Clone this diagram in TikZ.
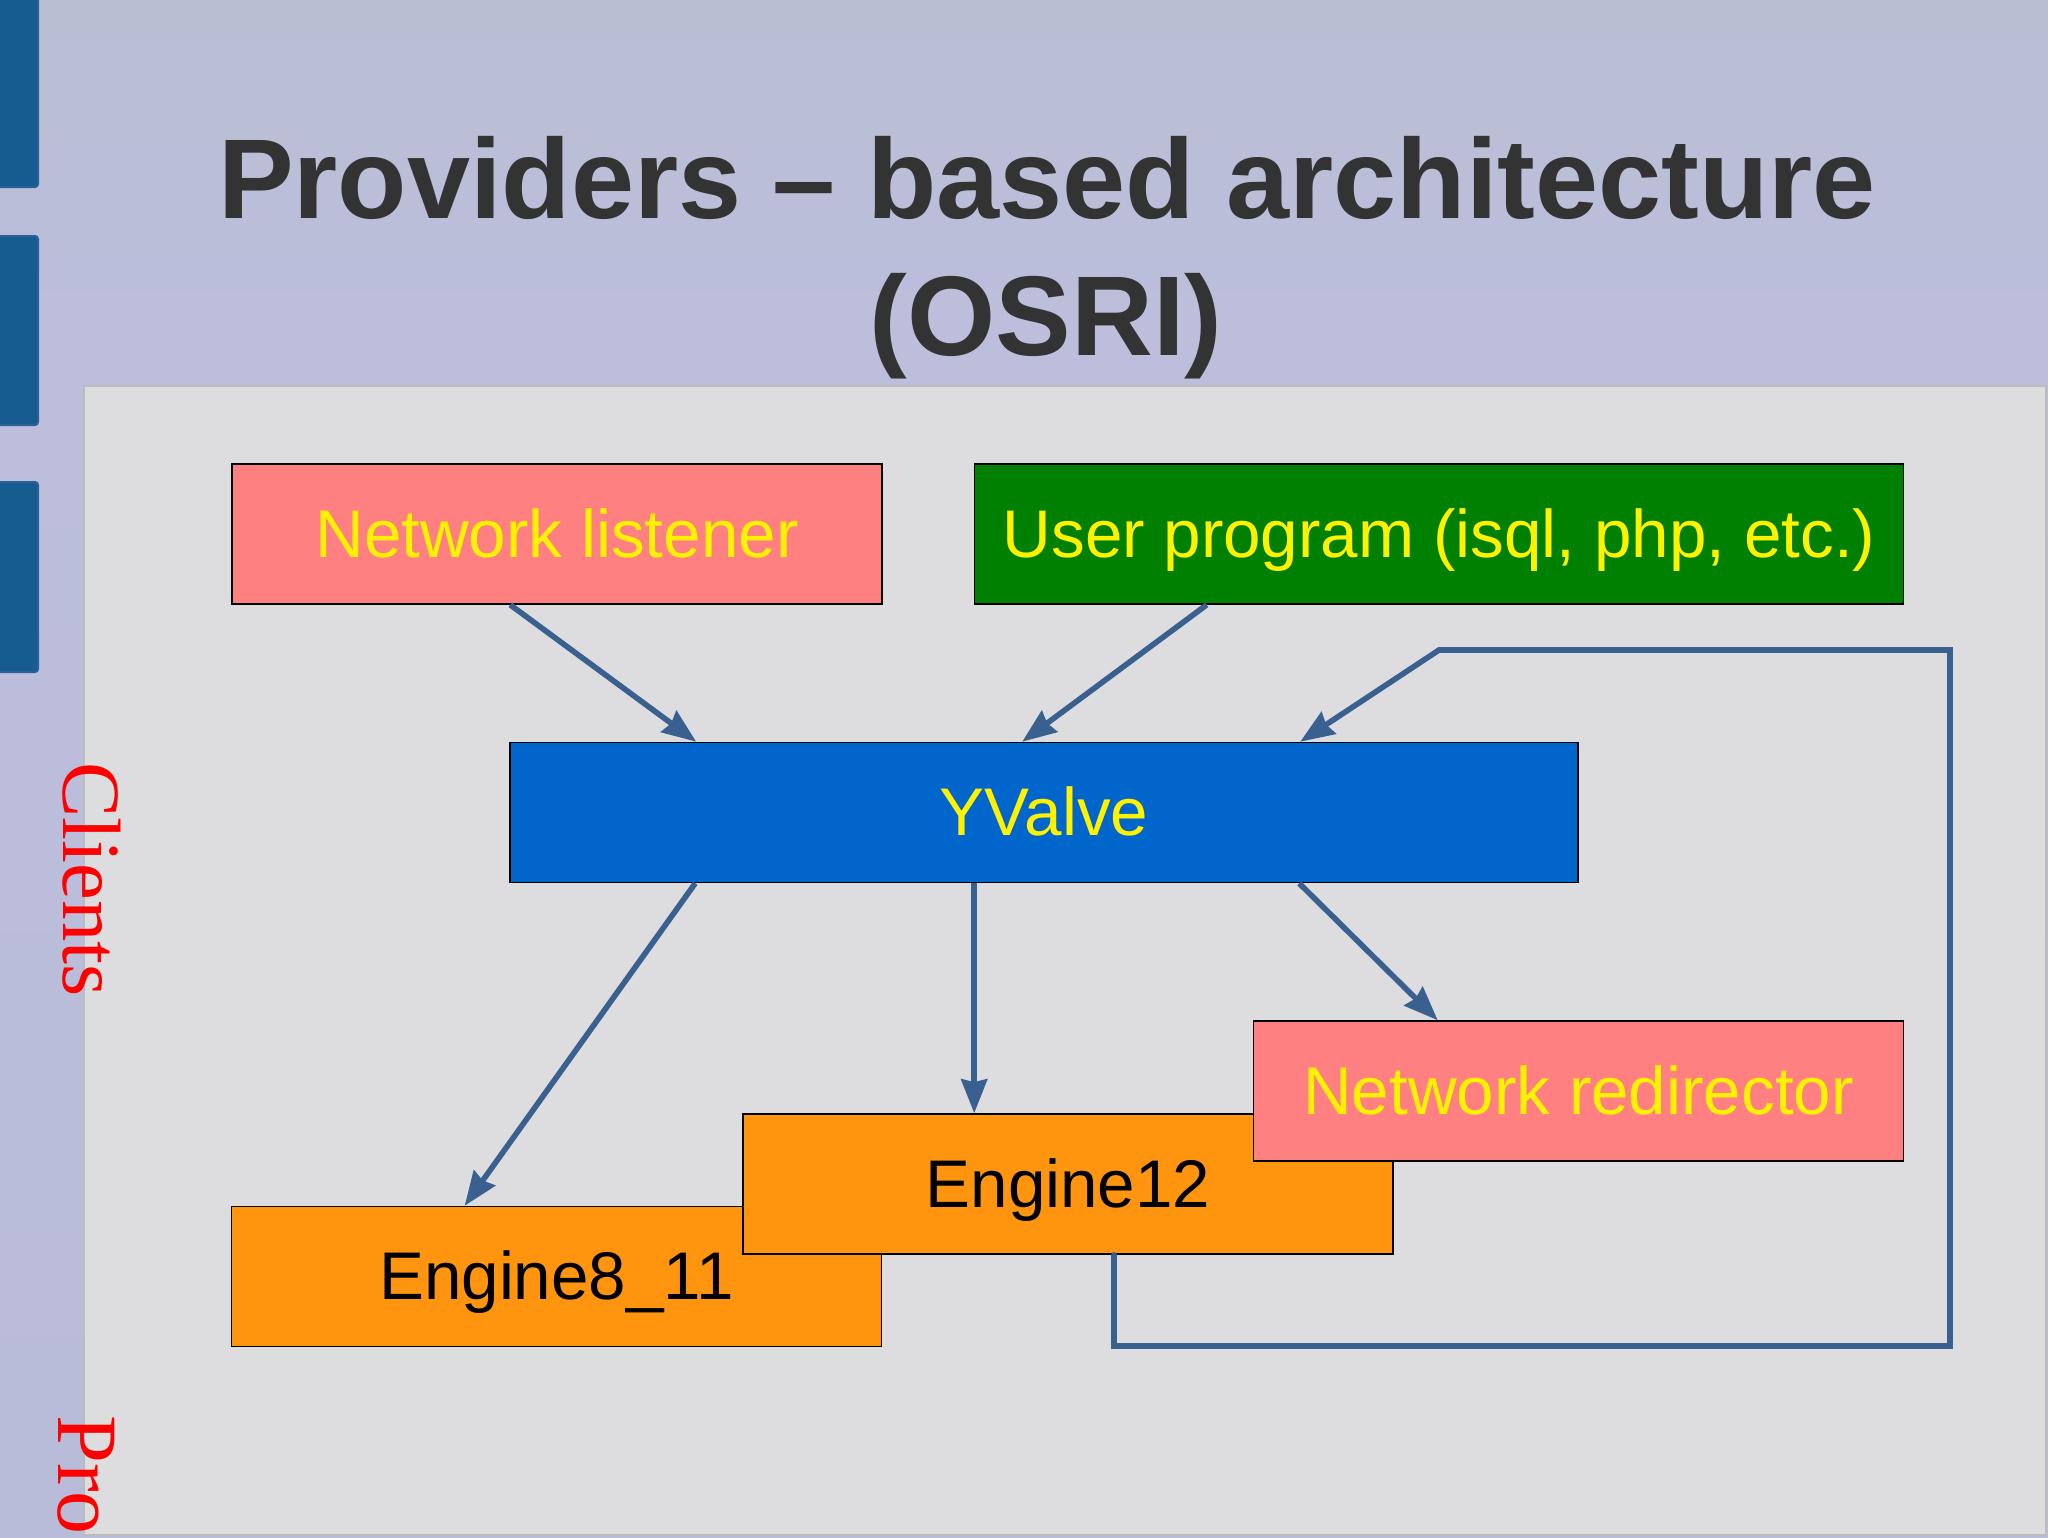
\documentclass[tikz,border=0pt]{standalone}
\usepackage{fontspec}
\setmainfont{Liberation Sans}
\newfontfamily\serifface{Liberation Serif}
\usetikzlibrary{arrows.meta}
\definecolor{bgtop}{HTML}{B8BFD3}
\definecolor{bgmid}{HTML}{BCBEDB}
\definecolor{bgbot}{HTML}{B9BCD8}
\definecolor{panelfill}{HTML}{DDDDDF}
\definecolor{panelline}{HTML}{BBBDBB}
\definecolor{stripefill}{HTML}{165C90}
\definecolor{stripeline}{HTML}{2A6094}
\definecolor{titleink}{HTML}{333333}
\definecolor{wire}{HTML}{3A6090}
\definecolor{pinkbox}{HTML}{FF8080}
\definecolor{greenbox}{HTML}{008000}
\definecolor{bluebox}{HTML}{0066CC}
\definecolor{orangebox}{HTML}{FF950E}
\tikzset{
  flowbox/.style={draw=black,line width=0.8pt,inner sep=0pt,minimum width=#1,minimum height=70pt,
    text height=26pt,text depth=3pt,
    font=\fontsize{33.7pt}{40pt}\selectfont},
  flowbox/.default=325pt,
  wireline/.style={draw=wire,line width=2.8pt,line join=miter},
  arrowline/.style={wireline,-{Stealth[length=17pt,width=13pt,inset=1.5pt]}},
  stripe/.style={fill=stripefill,draw=stripeline,line width=1pt,rounded corners=1.5pt},
  titletext/.style={text=titleink,font=\fontsize{56.7pt}{68pt}\selectfont\bfseries,inner sep=0pt,anchor=base},
  sidetext/.style={text=red,font=\fontsize{#1}{48pt}\selectfont\serifface,rotate=-90,inner sep=0pt,anchor=base west},
}
\begin{document}
\begin{tikzpicture}[x=0.5pt,y=-0.5pt]
\useasboundingbox (0,0) rectangle (2048,1537);
\clip (0,0) rectangle (2048,1537);
\shade[top color=bgtop,bottom color=bgmid] (0,0) rectangle (2048,331);
\shade[top color=bgmid,bottom color=bgbot] (0,330) rectangle (2048,1537);
\draw[stripe] (-10,-10) rectangle (38,187);
\draw[stripe] (-10,236) rectangle (38,425);
\draw[stripe] (-10,482) rectangle (38,672);
\node[titletext] (title1) at (1047,218) {Providers – based architecture};
\node[titletext] (title2) at (1046,355) {(OSRI)};
\draw[fill=panelfill,draw=panelline,line width=1pt] (84,385.5) rectangle (2046,1535);
\node[flowbox,fill=pinkbox,text=yellow] (nl) at (557,534) {Network listener};
\node[flowbox=464.5pt,fill=greenbox,text=yellow] (up) at (1439,534) {User program (isql, php, etc.)};
\node[flowbox=534pt,fill=bluebox,text=yellow] (yv) at (1044,812.5) {YValve};
\node[flowbox,fill=orangebox,text=black] (e8) at (556.5,1276.5) {Engine8\_11};
\node[flowbox,fill=orangebox,text=black] (e12) at (1068,1184) {Engine12};
\node[flowbox,fill=pinkbox,text=yellow] (nr) at (1578.5,1091) {Network redirector};
\coordinate (c1) at (1114,1346);
\coordinate (c2) at (1950,1346);
\coordinate (c3) at (1950,650);
\coordinate (c4) at (1439,650);
\draw[arrowline] ([xshift=139.5pt]nl.south west) -- ([xshift=93.5pt]yv.north west);
\draw[arrowline] ([xshift=116.5pt]up.south west) -- ([xshift=256.5pt]yv.north west);
\draw[arrowline] (c4) -- ([xshift=395.5pt]yv.north west);
\draw[wireline,line cap=round] (c1 |- e12.south) -- (c1) -- (c2) -- (c3) -- (c4);
\draw[arrowline] ([xshift=93pt]yv.south west) -- ([xshift=117pt]e8.north west);
\draw[arrowline] ([xshift=232.5pt]yv.south west) -- ([xshift=116pt]e12.north west);
\draw[arrowline] ([xshift=395pt]yv.south west) -- ([xshift=92.5pt]nr.north west);
\node[sidetext=41.4pt] (clients) at (63,762) {Clients};
\node[sidetext=43pt] (pro) at (58,1415) {Pro};
\end{tikzpicture}
\end{document}
